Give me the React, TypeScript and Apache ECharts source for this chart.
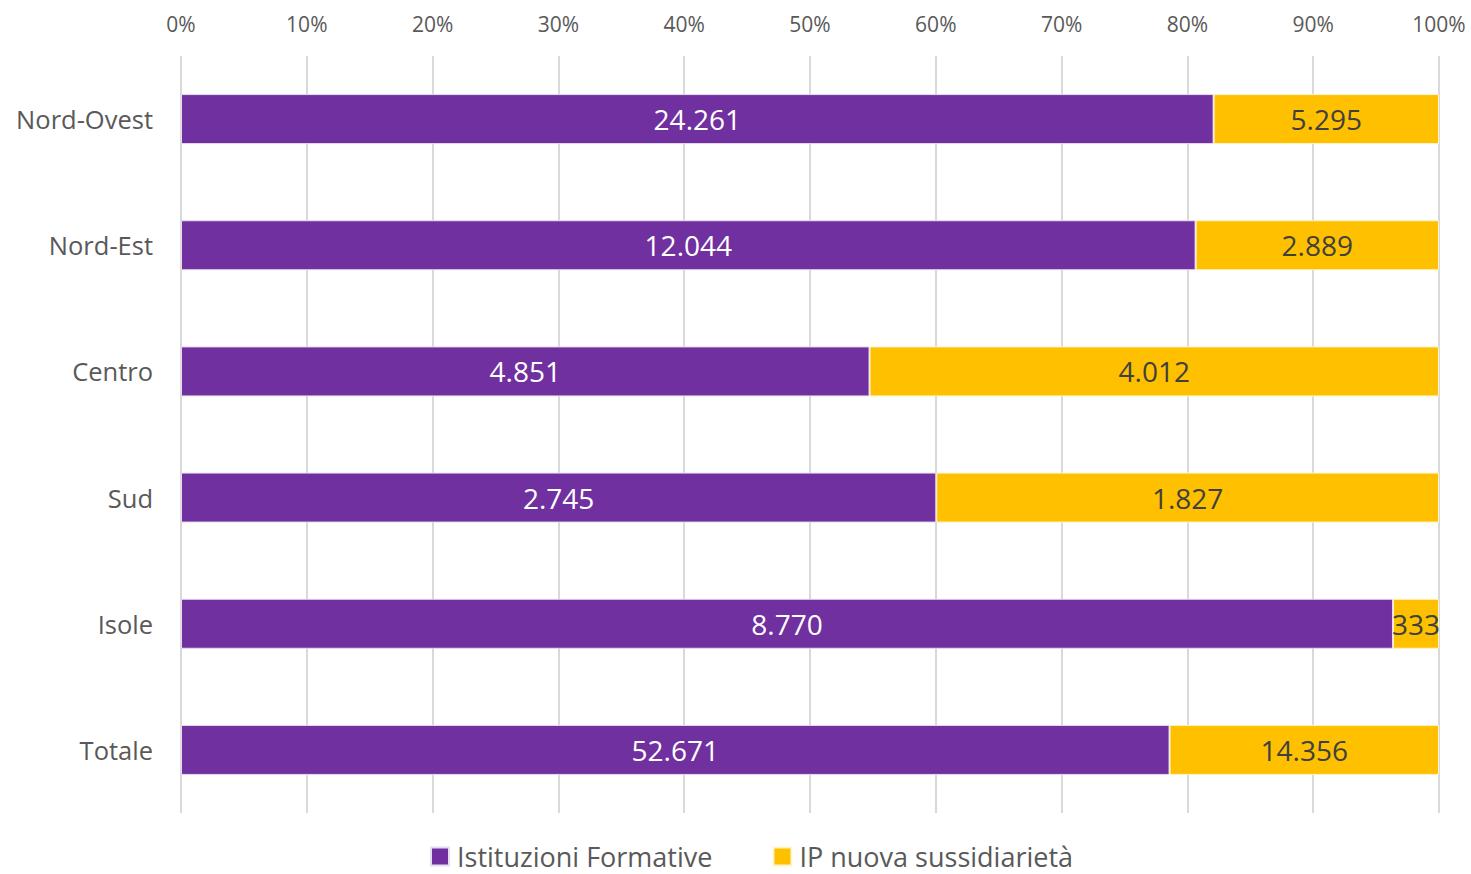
import React, { useEffect, useRef } from "react";
import * as echarts from "echarts";

const categories = ["Nord-Ovest", "Nord-Est", "Centro", "Sud", "Isole", "Totale"];
const istituzioniFormative = [24261, 12044, 4851, 2745, 8770, 52671];
const ipNuovaSussidiarieta = [5295, 2889, 4012, 1827, 333, 14356];
const seriesNames = ["Istituzioni Formative", "IP nuova sussidiarietà"];
const xTicks = [0, 10, 20, 30, 40, 50, 60, 70, 80, 90, 100];

const fmt = (n: number) => n.toString().replace(/\B(?=(\d{3})+(?!\d))/g, ".");

export default function App() {
  const ref = useRef<HTMLDivElement>(null);
  useEffect(() => {
    document.body.style.margin = "0";
    const chart = echarts.init(ref.current!, null, { renderer: "svg" });
    const totals = categories.map((_, i) => istituzioniFormative[i] + ipNuovaSussidiarieta[i]);
    const mk = (vals: number[]) =>
      vals.map((v, i) => ({ value: (v / totals[i]) * 100, raw: v }));
    const font = "'Open Sans', 'Noto Sans', sans-serif";
    chart.setOption({
      animation: false,
      textStyle: { fontFamily: font },
      grid: { left: 181, right: 32, top: 56, bottom: 61, containLabel: false },
      legend: {
        top: 838,
        left: 425,
        itemWidth: 18,
        itemHeight: 18,
        itemGap: 60,
        icon: "rect",
        textStyle: {
          fontSize: 27,
          lineHeight: 26,
          color: "#595959",
          fontFamily: font,
          padding: [0, 0, 0, 3],
        },
        data: seriesNames,
      },
      xAxis: {
        type: "value",
        position: "top",
        min: 0,
        max: 100,
        interval: 10,
        axisLine: { show: false },
        axisTick: { show: false },
        axisLabel: {
          formatter: (v: number) => (xTicks.includes(v) ? v + "%" : ""),
          fontSize: 21,
          color: "#595959",
          margin: 22,
          fontFamily: font,
        },
        splitLine: { lineStyle: { color: "#d9d9d9", width: 2 } },
      },
      yAxis: {
        type: "category",
        inverse: true,
        data: categories,
        axisLine: { show: false },
        axisTick: { show: false },
        axisLabel: { fontSize: 25.5, color: "#595959", margin: 28, fontFamily: font },
      },
      series: [
        {
          name: seriesNames[0],
          type: "bar",
          stack: "t",
          barWidth: 50,
          itemStyle: { color: "#7030A0", borderColor: "#e6dcef", borderWidth: 1 },
          label: {
            show: true,
            position: "inside",
            color: "#ffffff",
            fontSize: 28,
            fontFamily: font,
            formatter: (p: any) => fmt(p.data.raw),
          },
          data: mk(istituzioniFormative),
        },
        {
          name: seriesNames[1],
          type: "bar",
          stack: "t",
          barWidth: 50,
          itemStyle: { color: "#FFC000", borderColor: "#fff3cc", borderWidth: 1 },
          label: {
            show: true,
            position: "inside",
            color: "#404040",
            fontSize: 28,
            fontFamily: font,
            formatter: (p: any) => fmt(p.data.raw),
          },
          labelLayout: { hideOverlap: false },
          data: mk(ipNuovaSussidiarieta),
        },
      ],
    });
    return () => chart.dispose();
  }, []);
  return <div ref={ref} style={{ width: 1471, height: 874 }} />;
}
